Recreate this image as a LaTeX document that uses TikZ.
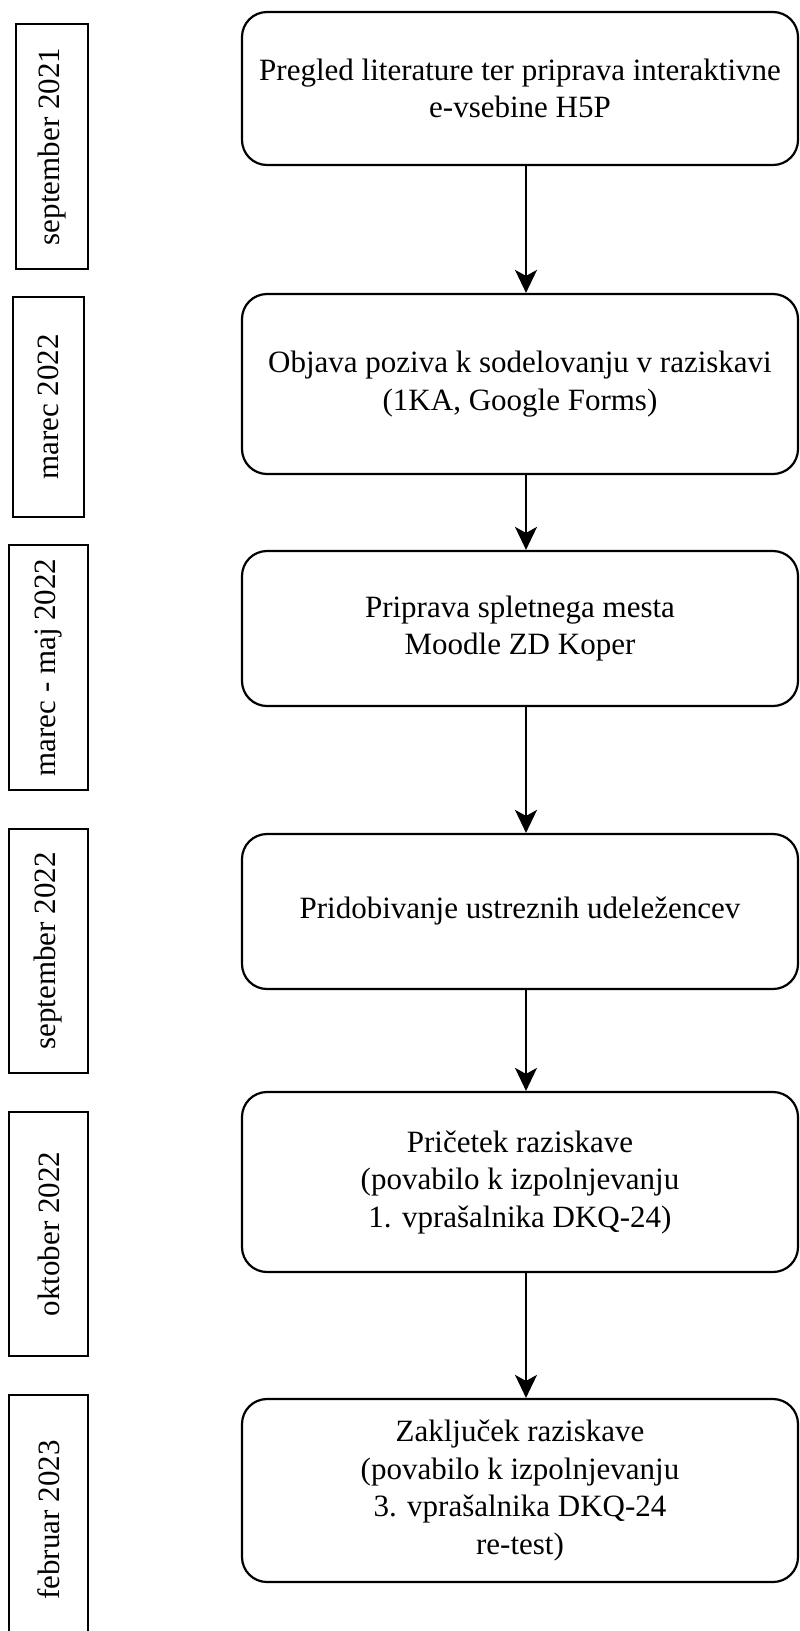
\documentclass[tikz,border=0pt]{standalone}
\usepackage{fontspec}
\setmainfont{Liberation Serif}
\usetikzlibrary{arrows.meta}
\begin{document}
\begin{tikzpicture}[x=1pt,y=-1pt,
  stepbox/.style={draw=black, line width=2.2pt, rounded corners=25pt, align=center,
    inner sep=0pt, minimum width=556pt, font=\fontsize{31}{37.5}\selectfont},
  datebox/.style={draw=black, line width=2.2pt, inner sep=0pt, rotate=90,
    font=\fontsize{31}{37.5}\selectfont},
  arr/.style={line width=2.2pt, -{Stealth[length=23pt,width=22pt,inset=6pt]}}]
\useasboundingbox (0,0) rectangle (800,1631);
\clip (0,0) rectangle (800,1631);
% process boxes
\node[stepbox, minimum height=153pt] (b1) at (520,88.5) {Pregled literature ter priprava interaktivne\\e-vsebine H5P};
\node[stepbox, minimum height=180pt] (b2) at (520,384) {Objava poziva k sodelovanju v raziskavi\\(1KA, Google Forms)};
\node[stepbox, minimum height=155pt] (b3) at (520,628.5) {Priprava spletnega mesta\\Moodle ZD Koper};
\node[stepbox, minimum height=155pt] (b4) at (520,911.5) {Pridobivanje ustreznih udeležencev};
\node[stepbox, minimum height=180pt] (b5) at (520,1182) {Pričetek raziskave\\(povabilo k izpolnjevanju\\1. vprašalnika DKQ-24)};
\node[stepbox, minimum height=183pt] (b6) at (520,1490.5) {Zaključek raziskave\\(povabilo k izpolnjevanju\\3. vprašalnika DKQ-24\\re-test)};
% date boxes (rotated: minimum width is the vertical extent)
\node[datebox, minimum width=245pt, minimum height=72pt] (d1) at (52,146.5) {september 2021};
\node[datebox, minimum width=220pt, minimum height=71pt] (d2) at (48.5,407) {marec 2022};
\node[datebox, minimum width=245pt, minimum height=79pt] (d3) at (48.5,667.5) {marec - maj 2022};
\node[datebox, minimum width=244pt, minimum height=79pt] (d4) at (48.5,951) {september 2022};
\node[datebox, minimum width=244pt, minimum height=79pt] (d5) at (48.5,1234) {oktober 2022};
\node[datebox, minimum width=250pt, minimum height=79pt] (d6) at (48.5,1520) {februar 2023};
% connectors
\coordinate (ax) at (526,0);
\draw[arr] (b1.south -| ax) -- (b2.north -| ax);
\draw[arr] (b2.south -| ax) -- (b3.north -| ax);
\draw[arr] (b3.south -| ax) -- (b4.north -| ax);
\draw[arr] (b4.south -| ax) -- (b5.north -| ax);
\draw[arr] (b5.south -| ax) -- (b6.north -| ax);
\end{tikzpicture}
\end{document}
